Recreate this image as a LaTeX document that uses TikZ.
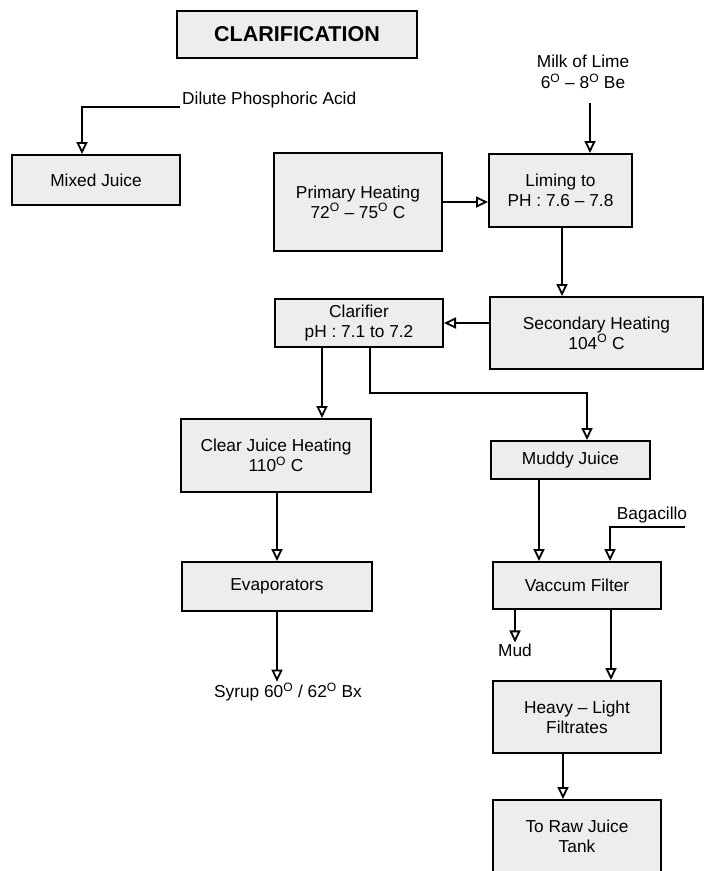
\documentclass[tikz,border=0pt]{standalone}
\usepackage{fontspec}
\setmainfont{Liberation Sans}
\usetikzlibrary{arrows.meta,calc}
\newcommand{\dg}{\textsuperscript{O}}
\tikzset{
  x=1pt,y=-1pt,
  box/.style={draw=black,line width=2pt,fill=black!7,inner sep=0pt,align=center,
    font=\fontsize{17.3}{20}\selectfont},
  lbl/.style={inner sep=1pt,align=center,font=\fontsize{17.3}{21}\selectfont},
  arr/.style={line width=2pt,-{Triangle[open,length=12pt,width=11pt,line width=1.8pt]}},
}
\begin{document}
\begin{tikzpicture}
\useasboundingbox (0,0) rectangle (705,871);
% boxes
\node[box,minimum width=240,minimum height=47,font=\fontsize{21.5}{24}\selectfont\bfseries] (title) at (297,34.5) {CLARIFICATION};
\node[box,minimum width=168,minimum height=50] (mixed) at (96,180) {Mixed Juice};
\node[box,minimum width=168,minimum height=98] (primary) at (358,202) {Primary Heating\\72\dg{} -- 75\dg{} C};
\node[box,minimum width=143,minimum height=73] (liming) at (560.5,190.5) {Liming to\\PH : 7.6 -- 7.8};
\node[box,minimum width=213,minimum height=72] (secondary) at (596.5,333) {Secondary Heating\\104\dg{} C};
\node[box,minimum width=168,minimum height=48] (clarifier) at (359,323) {Clarifier\\pH : 7.1 to 7.2};
\node[box,minimum width=190,minimum height=73] (clear) at (276,455.5) {Clear Juice Heating\\110\dg{} C};
\node[box,minimum width=190,minimum height=49] (evap) at (277,586.5) {Evaporators};
\node[box,minimum width=159,minimum height=38] (muddy) at (570.5,460) {Muddy Juice};
\node[box,minimum width=168,minimum height=47] (vaccum) at (577,585.5) {Vaccum Filter};
\node[box,minimum width=168,minimum height=72] (heavy) at (577,717) {Heavy -- Light\\Filtrates};
\node[box,minimum width=168,minimum height=73] (raw) at (577,836.5) {To Raw Juice\\Tank};
% labels
\node[lbl,anchor=west] (dilute) at (181,100) {Dilute Phosphoric Acid};
\node[lbl] (milk) at (583,72) {Milk of Lime\\6\dg{} -- 8\dg{} Be};
\node[lbl] (syrup) at (288,692) {Syrup 60\dg{} / 62\dg{} Bx};
\node[lbl] (bag) at (652,515) {Bagacillo};
\node[lbl] (mud) at (515,650) {Mud};
% free ends
\coordinate (dilstart) at (180,107);
\coordinate (milkstart) at (590,103);
\coordinate (bagstart) at (685,527);
% connectors
\draw[arr] (dilstart) -| ([xshift=71]mixed.north west);
\draw[arr] (milkstart) -- (milkstart |- liming.north);
\draw[arr] (primary.east) -- (primary.east -| liming.west);
\draw[arr] ([xshift=1.5]liming.south) -- ([xshift=1.5]liming.south |- secondary.north);
\draw[arr] (secondary.west |- clarifier.east) -- (clarifier.east);
\draw[arr] ([xshift=48]clarifier.south west) -- ([xshift=48]clarifier.south west |- clear.north);
\draw[arr] ([xshift=96]clarifier.south west) |- ($(muddy.north west)+(97,-47)$) -- ([xshift=97]muddy.north west);
\draw[arr] (clear.south -| evap.north) -- (evap.north);
\draw[arr] (evap.south) -- (evap.south |- syrup.north);
\draw[arr] ([xshift=49]muddy.south west) -- ([xshift=49]muddy.south west |- vaccum.north);
\draw[arr] (bagstart) -| ([xshift=118]vaccum.north west);
\draw[arr] ([xshift=23]vaccum.south west) -- ([xshift=23]vaccum.south west |- mud.north);
\draw[arr] ([xshift=119]vaccum.south west) -- ([xshift=119]vaccum.south west |- heavy.north);
\draw[arr] ([xshift=71]heavy.south west) -- ([xshift=71]heavy.south west |- raw.north);
\end{tikzpicture}
\end{document}
